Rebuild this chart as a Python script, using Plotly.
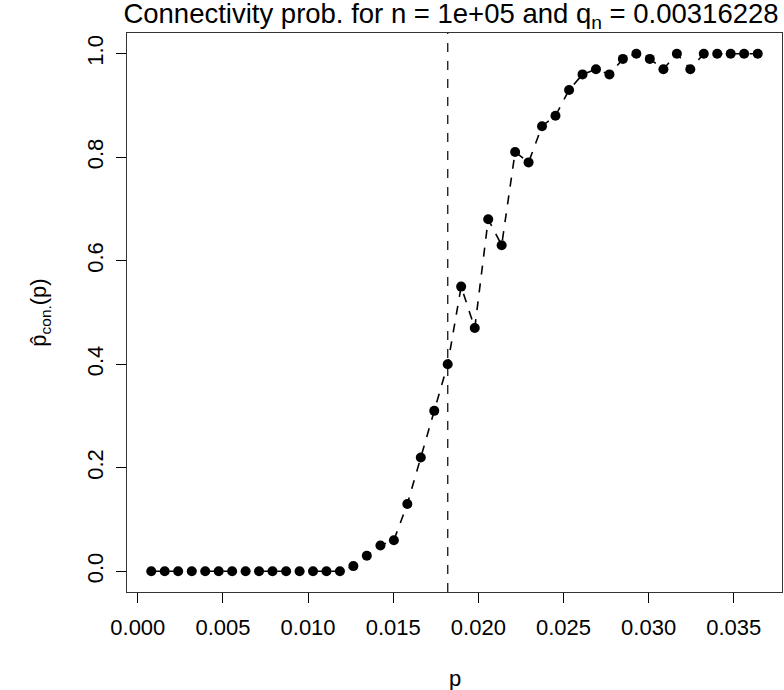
import plotly.graph_objects as go

# Data
p_values = [0.00079, 0.00158, 0.00237, 0.00317, 0.00396, 0.00475, 0.00554, 0.00633,
            0.00712, 0.00791, 0.00871, 0.00950, 0.01029, 0.01108, 0.01187, 0.01266,
            0.01345, 0.01425, 0.01504, 0.01583, 0.01662, 0.01741, 0.01820, 0.01899,
            0.01979, 0.02058, 0.02137, 0.02216, 0.02295, 0.02374, 0.02453, 0.02533,
            0.02612, 0.02691, 0.02770, 0.02849, 0.02928, 0.03007, 0.03087, 0.03166,
            0.03245, 0.03324, 0.03403, 0.03482, 0.03561, 0.03641]
p_con = [0, 0, 0, 0, 0, 0, 0, 0, 0, 0, 0, 0, 0, 0, 0,
         0.01, 0.03, 0.05, 0.06, 0.13, 0.22, 0.31, 0.40, 0.55, 0.47, 0.68, 0.63,
         0.81, 0.79, 0.86, 0.88, 0.93, 0.96, 0.97, 0.96, 0.99, 1.00, 0.99, 0.97,
         1.00, 0.97, 1.00, 1.00, 1.00, 1.00, 1.00]
threshold = 0.018204
x_ticks = [0.000, 0.005, 0.010, 0.015, 0.020, 0.025, 0.030, 0.035]
y_ticks = [0.0, 0.2, 0.4, 0.6, 0.8, 1.0]

FONT = "Liberation Sans, Arial, sans-serif"

fig = go.Figure()
fig.add_trace(go.Scatter(
    x=p_values, y=p_con, mode="lines+markers",
    line=dict(color="black", width=1.6, dash="dash"),
    marker=dict(color="black", size=10, symbol="circle"),
    showlegend=False, hoverinfo="x+y",
))

fig.add_shape(type="line", xref="x", yref="paper", x0=threshold, x1=threshold,
              y0=0, y1=1, line=dict(color="black", width=1.2, dash="dash"))

fig.add_annotation(text="p", xref="paper", yref="paper", x=0.5, y=0,
                   xanchor="center", yanchor="top", yshift=-72, showarrow=False,
                   font=dict(family=FONT, size=22, color="black"))

xmin, xmax = min(p_values), max(p_values)
xr = xmax - xmin
ymin, ymax = 0.0, 1.0
yr = ymax - ymin

fig.update_layout(
    width=784, height=690,
    margin=dict(l=127, r=2, t=33, b=98, autoexpand=False),
    paper_bgcolor="white", plot_bgcolor="white",
    font=dict(family=FONT, color="black", size=22),
    title=dict(text="Connectivity prob. for n = 1e+05 and q<sub>n</sub> = 0.00316228",
               x=451 / 784, xref="container", xanchor="center", y=1 - 4 / 690, yref="container",
               yanchor="top", pad=dict(t=0),
               font=dict(family=FONT, size=27.5, color="black")),
)
fig.update_xaxes(
    range=[xmin - 0.04 * xr, xmax + 0.04 * xr],
    tickvals=x_ticks, ticktext=[f"{v:.3f}" for v in x_ticks],
    ticks="outside", ticklen=10, tickcolor="black", tickwidth=1,
    showline=True, linecolor="#333333", linewidth=1, mirror=True,
    showgrid=False, zeroline=False, automargin=False,
    tickfont=dict(family=FONT, size=22, color="black"),
    ticklabelstandoff=6,
)
fig.update_yaxes(
    range=[ymin - 0.04 * yr, ymax + 0.04 * yr],
    tickvals=y_ticks, ticktext=[f"{v:.1f}" for v in y_ticks],
    ticks="outside", ticklen=10, tickcolor="black", tickwidth=1,
    showline=True, linecolor="#333333", linewidth=1, mirror=True,
    showgrid=False, zeroline=False, tickangle=-90, automargin=False,
    tickfont=dict(family=FONT, size=22, color="black"),
    ticklabelstandoff=4,
    title=dict(text="p̂<sub>con.</sub>(p)", font=dict(family=FONT, size=22, color="black"), standoff=30),
)

fig.write_html("out.html",
               config={"displayModeBar": False},
               post_script="document.body.style.margin='0';document.body.style.padding='0';")
